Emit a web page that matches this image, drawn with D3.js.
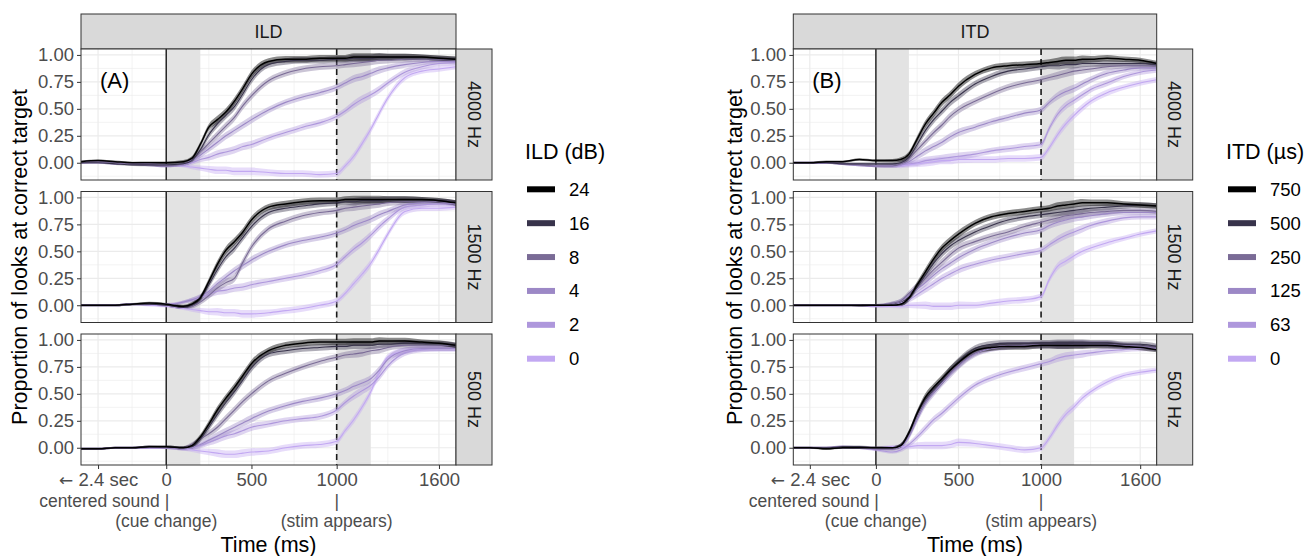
<!DOCTYPE html>
<html>
<head>
<meta charset="utf-8">
<script src="https://cdn.jsdelivr.net/npm/d3@7"></script>
<style>
  body { margin: 0; background: #fff; }
  text { font-family: "Liberation Sans", Arial, sans-serif; }
</style>
</head>
<body>
<div id="container"></div>
<script>
/**
 * DATA
 * */
const times = [-500, -400, -300, -200, -100, 0, 100, 150, 200, 250, 300, 350, 400, 450, 500,
  600, 700, 800, 900, 1000, 1050, 1100, 1150, 1200, 1250, 1300, 1400, 1500, 1600, 1700];

const freqs = ["4000 Hz", "1500 Hz", "500 Hz"];
const ildLevels = ["24", "16", "8", "4", "2", "0"];
const itdLevels = ["750", "500", "250", "125", "63", "0"];
const levelColors = ["#000000", "#38334b", "#7a6b96", "#9c88c6", "#ae97dc", "#c2a8f2"];

// approx. ribbon half-width over time
const ribbonHalf = [0.01, 0.01, 0.01, 0.01, 0.012, 0.012, 0.015, 0.02, 0.025, 0.03, 0.035, 0.035, 0.035, 0.035, 0.035,
  0.03, 0.03, 0.03, 0.03, 0.03, 0.03, 0.035, 0.035, 0.035, 0.035, 0.03, 0.03, 0.025, 0.025, 0.025];

// ILD, one row per level (24, 16, 8, 4, 2, 0)
const ild4000 = [
  [0.01,0.02,0.01,0.0,0.0, 0.0,0.01,0.04,0.17,0.33, 0.40,0.47,0.57,0.69,0.82, 0.94,0.96,0.96,0.97,0.97, 0.97,0.98,0.98,0.98,0.98, 0.98,0.98,0.98,0.97,0.96],
  [0.0,0.0,-0.01,-0.02,-0.02, -0.02,-0.01,0.02,0.12,0.26, 0.36,0.44,0.52,0.64,0.77, 0.91,0.94,0.95,0.95,0.96, 0.96,0.97,0.97,0.97,0.98, 0.98,0.98,0.98,0.97,0.96],
  [0.0,0.01,0.0,-0.01,-0.02, -0.03,-0.01,0.03,0.10,0.18, 0.26,0.34,0.42,0.53,0.62, 0.76,0.83,0.87,0.89,0.90, 0.91,0.92,0.93,0.94,0.95, 0.95,0.96,0.96,0.96,0.95],
  [0.0,0.01,0.0,-0.01,-0.02, -0.03,-0.02,0.02,0.07,0.13, 0.19,0.25,0.30,0.35,0.40, 0.49,0.56,0.61,0.65,0.70, 0.74,0.78,0.80,0.83,0.86, 0.88,0.91,0.93,0.94,0.94],
  [0.0,0.0,-0.01,-0.01,-0.02, -0.03,-0.02,0.0,0.03,0.05, 0.08,0.10,0.12,0.15,0.17, 0.23,0.28,0.33,0.37,0.43, 0.48,0.54,0.59,0.63,0.68, 0.74,0.84,0.89,0.92,0.93],
  [0.01,0.01,0.0,-0.01,-0.01, -0.02,-0.03,-0.04,-0.05,-0.06, -0.07,-0.07,-0.08,-0.08,-0.08, -0.09,-0.10,-0.10,-0.11,-0.10, -0.03,0.06,0.18,0.31,0.46, 0.60,0.79,0.85,0.87,0.89]
];
const ild1500 = [
  [0.0,0.0,0.0,0.01,0.02, 0.01,-0.01,0.01,0.07,0.22, 0.38,0.51,0.59,0.68,0.79, 0.91,0.94,0.96,0.97,0.97, 0.98,0.98,0.98,0.98,0.98, 0.98,0.98,0.98,0.97,0.95],
  [0.0,0.0,0.0,0.01,0.01, 0.0,-0.02,0.0,0.06,0.19, 0.33,0.45,0.53,0.63,0.73, 0.86,0.90,0.92,0.94,0.95, 0.96,0.96,0.97,0.97,0.97, 0.98,0.98,0.98,0.97,0.95],
  [0.0,0.0,0.0,0.01,0.01, 0.0,-0.02,-0.01,0.03,0.09, 0.16,0.21,0.25,0.40,0.54, 0.71,0.78,0.83,0.86,0.88, 0.90,0.91,0.92,0.93,0.94, 0.95,0.96,0.96,0.96,0.95],
  [0.0,0.0,0.0,0.01,0.01, 0.0,0.03,0.05,0.08,0.13, 0.20,0.26,0.32,0.37,0.42, 0.50,0.56,0.60,0.63,0.67, 0.70,0.74,0.77,0.80,0.84, 0.87,0.93,0.95,0.96,0.94],
  [0.0,0.0,0.0,0.01,0.01, 0.01,0.03,0.05,0.07,0.10, 0.13,0.14,0.16,0.17,0.19, 0.22,0.25,0.28,0.32,0.38, 0.45,0.52,0.58,0.65,0.73, 0.80,0.91,0.93,0.94,0.94],
  [0.0,0.0,0.0,0.01,0.0, -0.01,-0.03,-0.04,-0.05,-0.06, -0.06,-0.07,-0.07,-0.08,-0.08, -0.07,-0.05,-0.03,0.0,0.04, 0.11,0.20,0.29,0.39,0.52, 0.66,0.87,0.90,0.90,0.91]
];
const ild500 = [
  [-0.01,-0.01,0.0,0.0,0.01, 0.01,0.0,0.02,0.10,0.22, 0.35,0.46,0.56,0.67,0.78, 0.90,0.95,0.97,0.98,0.98, 0.98,0.98,0.98,0.98,0.99, 0.99,0.99,0.98,0.97,0.95],
  [-0.01,-0.01,0.0,0.0,0.01, 0.01,0.0,0.01,0.08,0.19, 0.31,0.42,0.52,0.63,0.74, 0.87,0.90,0.92,0.93,0.94, 0.94,0.95,0.95,0.95,0.96, 0.96,0.97,0.97,0.97,0.95],
  [-0.01,-0.01,0.0,0.0,0.01, 0.0,0.0,0.03,0.08,0.13, 0.19,0.27,0.35,0.43,0.50, 0.62,0.69,0.75,0.80,0.84, 0.86,0.87,0.88,0.90,0.91, 0.93,0.95,0.95,0.95,0.95],
  [-0.01,-0.01,0.0,0.0,0.0, 0.0,-0.01,0.0,0.03,0.07, 0.11,0.15,0.19,0.23,0.27, 0.34,0.39,0.43,0.46,0.50, 0.53,0.57,0.60,0.64,0.72, 0.82,0.90,0.92,0.92,0.92],
  [-0.01,-0.01,0.0,0.0,0.0, 0.0,-0.01,0.0,0.02,0.05, 0.08,0.11,0.13,0.16,0.19, 0.22,0.25,0.27,0.29,0.35, 0.42,0.48,0.53,0.58,0.66, 0.76,0.88,0.91,0.92,0.92],
  [-0.01,-0.01,0.0,0.0,0.0, 0.0,-0.01,-0.02,-0.03,-0.04, -0.05,-0.06,-0.06,-0.05,-0.04, -0.03,0.0,0.02,0.03,0.06, 0.16,0.26,0.38,0.52,0.70, 0.84,0.90,0.92,0.92,0.92]
];

// ITD, one row per level (750, 500, 250, 125, 63, 0)
const itd4000 = [
  [0.0,0.0,0.01,0.01,0.03, 0.02,0.02,0.03,0.08,0.22, 0.36,0.46,0.56,0.63,0.71, 0.82,0.88,0.90,0.91,0.92, 0.93,0.94,0.95,0.95,0.96, 0.96,0.97,0.96,0.95,0.92],
  [0.0,0.0,0.0,-0.01,-0.01, -0.01,-0.01,0.0,0.05,0.17, 0.30,0.40,0.48,0.56,0.62, 0.73,0.80,0.85,0.87,0.89, 0.90,0.90,0.91,0.91,0.92, 0.92,0.92,0.92,0.92,0.91],
  [0.0,0.0,0.0,-0.01,-0.02, -0.03,-0.03,-0.01,0.04,0.12, 0.20,0.28,0.35,0.43,0.49, 0.57,0.64,0.70,0.74,0.77, 0.79,0.81,0.83,0.85,0.86, 0.87,0.89,0.90,0.90,0.90],
  [0.0,0.0,0.0,-0.01,-0.02, -0.03,-0.03,-0.02,0.01,0.06, 0.11,0.15,0.19,0.24,0.28, 0.33,0.38,0.42,0.46,0.49, 0.56,0.62,0.66,0.69,0.73, 0.77,0.83,0.86,0.88,0.88],
  [0.0,0.0,0.0,-0.01,-0.02, -0.03,-0.03,-0.02,-0.01,0.0, 0.02,0.03,0.04,0.05,0.06, 0.08,0.11,0.13,0.15,0.17, 0.32,0.45,0.53,0.58,0.63, 0.68,0.74,0.80,0.84,0.86],
  [0.0,0.0,0.0,-0.01,-0.02, -0.03,-0.03,-0.03,-0.02,-0.01, 0.0,0.01,0.02,0.02,0.03, 0.03,0.03,0.04,0.04,0.05, 0.14,0.26,0.36,0.44,0.51, 0.57,0.65,0.70,0.74,0.77]
];
const itd1500 = [
  [0.0,0.0,0.0,0.0,0.0, 0.0,0.0,0.01,0.07,0.19, 0.31,0.43,0.53,0.60,0.66, 0.76,0.82,0.85,0.87,0.89, 0.90,0.92,0.93,0.94,0.95, 0.95,0.95,0.94,0.93,0.92],
  [0.0,0.0,0.0,0.0,0.0, 0.0,0.0,0.01,0.06,0.17, 0.28,0.39,0.48,0.55,0.60, 0.68,0.74,0.79,0.82,0.84, 0.85,0.86,0.87,0.88,0.89, 0.90,0.91,0.92,0.93,0.92],
  [0.0,0.0,0.0,0.0,0.0, 0.0,0.02,0.04,0.11,0.18, 0.25,0.33,0.40,0.47,0.53, 0.59,0.64,0.68,0.73,0.77, 0.79,0.81,0.83,0.84,0.85, 0.86,0.87,0.88,0.88,0.87],
  [0.0,0.0,0.0,0.0,0.0, 0.0,0.02,0.04,0.09,0.15, 0.21,0.28,0.34,0.39,0.44, 0.52,0.58,0.63,0.67,0.70, 0.74,0.77,0.79,0.81,0.82, 0.83,0.85,0.86,0.86,0.86],
  [0.0,0.0,0.0,0.0,0.0, -0.01,0.0,0.02,0.05,0.10, 0.15,0.20,0.25,0.29,0.33, 0.38,0.42,0.45,0.48,0.51, 0.56,0.61,0.65,0.68,0.71, 0.74,0.78,0.81,0.82,0.82],
  [0.0,0.0,0.0,0.0,0.0, -0.01,-0.01,-0.01,0.0,0.0, 0.0,-0.01,-0.01,-0.01,0.0, 0.0,0.02,0.04,0.05,0.08, 0.24,0.36,0.41,0.46,0.50, 0.53,0.58,0.62,0.66,0.69]
];
const itd500 = [
  [0.0,0.0,-0.01,0.0,0.0, 0.0,0.0,0.02,0.14,0.32, 0.47,0.56,0.64,0.72,0.79, 0.90,0.93,0.94,0.94,0.95, 0.95,0.95,0.95,0.95,0.95, 0.95,0.95,0.94,0.93,0.91],
  [0.0,0.0,0.0,0.01,0.01, 0.0,0.0,0.02,0.14,0.32, 0.45,0.54,0.62,0.72,0.80, 0.92,0.96,0.97,0.97,0.97, 0.97,0.97,0.97,0.97,0.97, 0.97,0.97,0.96,0.96,0.94],
  [0.0,0.0,0.0,0.0,0.0, -0.01,-0.01,0.02,0.12,0.29, 0.43,0.53,0.62,0.70,0.77, 0.88,0.93,0.95,0.95,0.96, 0.96,0.96,0.96,0.96,0.96, 0.96,0.96,0.95,0.94,0.93],
  [0.0,0.0,0.0,0.0,0.0, -0.01,-0.01,0.01,0.10,0.26, 0.41,0.51,0.60,0.68,0.76, 0.87,0.92,0.94,0.95,0.95, 0.95,0.95,0.95,0.96,0.96, 0.96,0.96,0.95,0.94,0.92],
  [0.0,0.0,0.0,0.01,0.0, -0.02,-0.04,-0.02,0.03,0.10, 0.18,0.26,0.32,0.39,0.46, 0.58,0.65,0.70,0.74,0.78, 0.80,0.83,0.85,0.86,0.87, 0.88,0.90,0.91,0.92,0.92],
  [0.0,0.0,0.0,0.01,0.0, 0.0,0.01,0.01,0.01,0.02, 0.02,0.02,0.02,0.03,0.05, 0.04,0.02,0.0,-0.02,0.0, 0.09,0.21,0.31,0.38,0.46, 0.52,0.61,0.67,0.70,0.72]
];

const xTicks = [-400, 0, 500, 1000, 1600];
const xTickLabels = ["2.4 sec", "0", "500", "1000", "1600"];
const xMinor = [-200, 250, 750, 1300];
const yTicks = [0, 0.25, 0.5, 0.75, 1];
const yMinor = [-0.125, 0.125, 0.375, 0.625, 0.875];
const shadeWindows = [[0, 200], [1000, 1200]];

/**
 * CONSTANTS AND GLOBALS
 * */
const width = 1315, height = 556;
const xDomain = [-500, 1700], yDomain = [-0.16, 1.055];
const panelTops = [49, 191.5, 334], panelH = 131;
const stripTop = 14, stripH = 35, stripW = 36;
const axisFont = 18.5, noteFont = 17.5;

const svg = d3.select("#container").append("svg")
  .attr("width", width).attr("height", height);

const facets = [
  { x0: 81, x1: 456, cue: "ILD", tag: "(A)", data: [ild4000, ild1500, ild500],
    levels: ildLevels, legendTitle: "ILD (dB)", legendX: 527, titleX: 20 },
  { x0: 793.3, x1: 1156.7, cue: "ITD", tag: "(B)", data: [itd4000, itd1500, itd500],
    levels: itdLevels, legendTitle: "ITD (\u00b5s)", legendX: 1228, titleX: 735 }
];

facets.forEach((f, fi) => drawFacet(f, fi));

function drawFacet(f, fi) {
  const g = svg.append("g");
  const x = d3.scaleLinear().domain(xDomain).range([f.x0, f.x1]);
  const pw = f.x1 - f.x0;

  // top strip
  g.append("rect").attr("x", f.x0).attr("y", stripTop).attr("width", pw).attr("height", stripH)
    .attr("fill", "#d9d9d9").attr("stroke", "#333").attr("stroke-width", 1);
  g.append("text").attr("x", (f.x0 + f.x1) / 2).attr("y", stripTop + stripH / 2 + 6.5)
    .attr("text-anchor", "middle").attr("font-size", 18).attr("fill", "#1a1a1a").text(f.cue);

  freqs.forEach((fq, pi) => {
    const top = panelTops[pi];
    const y = d3.scaleLinear().domain(yDomain).range([top + panelH, top]);
    const p = g.append("g");
    const clipId = `clip-${fi}-${pi}`;
    p.append("clipPath").attr("id", clipId).append("rect")
      .attr("x", f.x0).attr("y", top).attr("width", pw).attr("height", panelH);

    p.append("rect").attr("x", f.x0).attr("y", top).attr("width", pw).attr("height", panelH).attr("fill", "#fff");

    // grid
    p.selectAll(".ymin").data(yMinor).join("line")
      .attr("x1", f.x0).attr("x2", f.x1).attr("y1", d => y(d)).attr("y2", d => y(d))
      .attr("stroke", "#ebebeb").attr("stroke-width", 0.6);
    p.selectAll(".xmin").data(xMinor).join("line")
      .attr("x1", d => x(d)).attr("x2", d => x(d)).attr("y1", top).attr("y2", top + panelH)
      .attr("stroke", "#ebebeb").attr("stroke-width", 0.6);
    p.selectAll(".ymaj").data(yTicks).join("line")
      .attr("x1", f.x0).attr("x2", f.x1).attr("y1", d => y(d)).attr("y2", d => y(d))
      .attr("stroke", "#ebebeb").attr("stroke-width", 1.2);
    p.selectAll(".xmaj").data(xTicks).join("line")
      .attr("x1", d => x(d)).attr("x2", d => x(d)).attr("y1", top).attr("y2", top + panelH)
      .attr("stroke", "#ebebeb").attr("stroke-width", 1.2);

    // shaded windows
    p.selectAll(".shade").data(shadeWindows).join("rect")
      .attr("x", d => x(d[0])).attr("width", d => x(d[1]) - x(d[0]))
      .attr("y", top).attr("height", panelH).attr("fill", "#e3e3e3");

    // event lines
    p.append("line").attr("x1", x(0)).attr("x2", x(0)).attr("y1", top).attr("y2", top + panelH)
      .attr("stroke", "#1a1a1a").attr("stroke-width", 1.4);
    p.append("line").attr("x1", x(1000)).attr("x2", x(1000)).attr("y1", top).attr("y2", top + panelH)
      .attr("stroke", "#1a1a1a").attr("stroke-width", 1.6).attr("stroke-dasharray", "6,4");

    const series = f.data[pi];
    const area = d3.area().curve(d3.curveMonotoneX)
      .x((d, i) => x(times[i]))
      .y0((d, i) => y(d - ribbonHalf[i]))
      .y1((d, i) => y(d + ribbonHalf[i]));
    const line = d3.line().curve(d3.curveMonotoneX)
      .x((d, i) => x(times[i])).y(d => y(d));

    const order = d3.range(series.length).reverse();
    const plot = p.append("g").attr("clip-path", `url(#${clipId})`);
    plot.selectAll(".ribbon").data(order).join("path")
      .attr("d", k => area(series[k]))
      .attr("fill", k => levelColors[k]).attr("fill-opacity", k => k === 0 ? 0.45 : 0.4);
    plot.selectAll(".line").data(order).join("path")
      .attr("d", k => line(series[k]))
      .attr("fill", "none").attr("stroke", k => levelColors[k])
      .attr("stroke-width", k => k === 0 ? 1.5 : 1.1);

    // panel border
    p.append("rect").attr("x", f.x0).attr("y", top).attr("width", pw).attr("height", panelH)
      .attr("fill", "none").attr("stroke", "#333").attr("stroke-width", 1);

    // right strip
    p.append("rect").attr("x", f.x1).attr("y", top).attr("width", stripW).attr("height", panelH)
      .attr("fill", "#d9d9d9").attr("stroke", "#333").attr("stroke-width", 1);
    p.append("text")
      .attr("transform", `translate(${f.x1 + stripW / 2 - 6.5},${top + panelH / 2}) rotate(90)`)
      .attr("text-anchor", "middle").attr("font-size", 18).attr("fill", "#1a1a1a").text(fq);

    // y axis
    const yAxis = d3.axisLeft(y).tickValues(yTicks).tickFormat(d3.format(".2f")).tickSize(4).tickPadding(3);
    const ya = p.append("g").attr("transform", `translate(${f.x0},0)`).call(yAxis);
    ya.select(".domain").remove();
    ya.selectAll(".tick line").attr("stroke", "#333");
    ya.selectAll(".tick text").attr("font-size", axisFont).attr("fill", "#4d4d4d")
      .attr("font-family", '"Liberation Sans", Arial, sans-serif');

    if (pi === 0) {
      p.append("text").attr("x", f.x0 + 19).attr("y", top + 39)
        .attr("font-size", 22).attr("fill", "#000").text(f.tag);
    }

    if (pi === freqs.length - 1) {
      const bottom = top + panelH;
      const xAxis = d3.axisBottom(x).tickValues(xTicks)
        .tickFormat((d, i) => xTickLabels[i]).tickSize(4).tickPadding(4);
      const xa = p.append("g").attr("transform", `translate(0,${bottom})`).call(xAxis);
      xa.select(".domain").remove();
      xa.selectAll(".tick line").attr("stroke", "#333");
      xa.selectAll(".tick text").attr("font-size", axisFont).attr("fill", "#4d4d4d")
        .attr("font-family", '"Liberation Sans", Arial, sans-serif');
      // long left arrow in front of the first label
      xa.selectAll(".tick text").filter((d, i) => i === 0)
        .text(null)
        .call(t => {
          t.append("tspan").attr("font-family", "DejaVu Sans").attr("font-size", 17).text("\u2190 ");
          t.append("tspan").text(xTickLabels[0]);
        });

      const extra = p.append("g").attr("font-size", noteFont).attr("fill", "#4d4d4d");
      extra.append("text").attr("x", x(0) + 3).attr("y", bottom + 41.5).attr("text-anchor", "end").text("centered sound |");
      extra.append("text").attr("x", x(0)).attr("y", bottom + 61.5).attr("text-anchor", "middle").text("(cue change)");
      extra.append("text").attr("x", x(1000)).attr("y", bottom + 41.5).attr("text-anchor", "middle").text("|");
      extra.append("text").attr("x", x(1000)).attr("y", bottom + 61.5).attr("text-anchor", "middle").text("(stim appears)");

      p.append("text").attr("x", (f.x0 + f.x1) / 2).attr("y", 552).attr("text-anchor", "middle")
        .attr("font-size", 21.5).attr("fill", "#000").text("Time (ms)");
    }
  });

  // y title
  const midY = (panelTops[0] + panelTops[2] + panelH) / 2;
  g.append("text").attr("transform", `translate(${f.titleX + 7},${midY}) rotate(-90)`)
    .attr("text-anchor", "middle").attr("font-size", 21.5).attr("fill", "#000")
    .text("Proportion of looks at correct target");

  // legend
  const lg = g.append("g");
  lg.append("text").attr("x", f.legendX - 2).attr("y", 159).attr("font-size", 21.5).attr("fill", "#000").text(f.legendTitle);
  const ly = d3.scalePoint().domain(f.levels).range([189.3, 358.7]);
  lg.selectAll(".key").data(f.levels).join("line")
    .attr("x1", f.legendX).attr("x2", f.legendX + 28)
    .attr("y1", d => ly(d)).attr("y2", d => ly(d))
    .attr("stroke", (d, i) => levelColors[i]).attr("stroke-width", 6);
  lg.selectAll(".klab").data(f.levels).join("text")
    .attr("x", f.legendX + 42).attr("y", d => ly(d) + 6.5)
    .attr("font-size", axisFont).attr("fill", "#000").text(d => d);
}
</script>
</body>
</html>
